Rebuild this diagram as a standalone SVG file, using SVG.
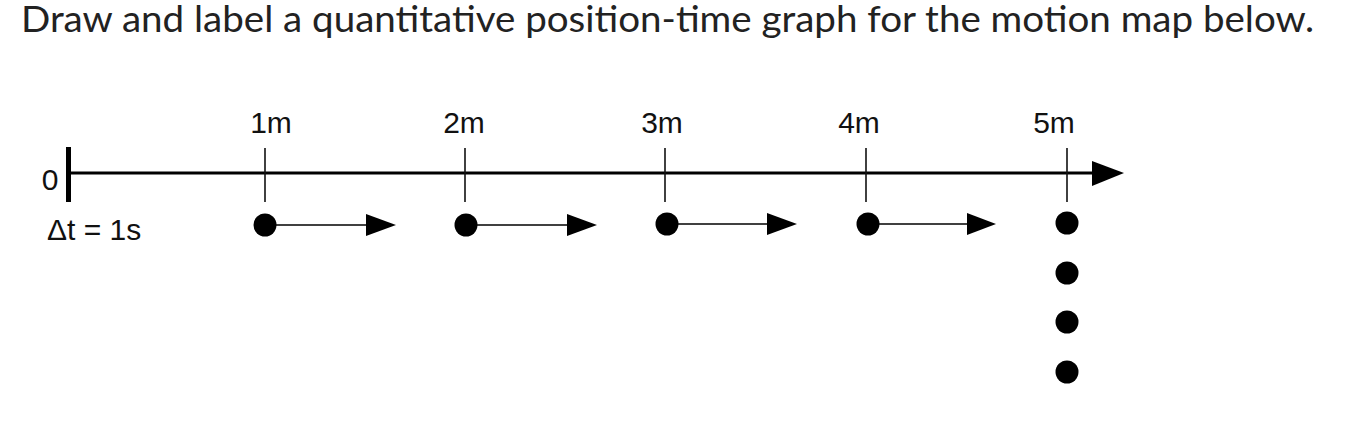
<svg xmlns="http://www.w3.org/2000/svg" width="1364" height="422" viewBox="0 0 1364 422">
<style>
.title{font-family:Lato,"Liberation Sans",sans-serif;font-size:36px;fill:#222}
.lbl{font-family:"Liberation Sans",Arial,sans-serif;font-size:30px;fill:#111}
.tick{stroke:#111;stroke-width:1.6}
.dot{fill:#000}
.vec{stroke:#000;stroke-width:1.6}
.head{fill:#000}
</style>
<rect width="1364" height="422" fill="#fff"/>
<text class="title" x="21" y="32" textLength="1293" lengthAdjust="spacingAndGlyphs">Draw and label a quantitative position-time graph for the motion map below.</text>
<g id="axis">
<line x1="70" y1="173" x2="1094" y2="173" stroke="#000" stroke-width="3.2"/>
<polygon class="head" points="1092,161 1124,173 1092,186"/>
<line x1="68.5" y1="147" x2="68.5" y2="202" stroke="#000" stroke-width="5"/>
<text class="lbl" x="50" y="190" text-anchor="middle">0</text>
<text class="lbl" x="47" y="240">Δt = 1s</text>
</g>
<g id="ticks">
<line class="tick" x1="265" y1="148" x2="265" y2="202"/>
<line class="tick" x1="465" y1="148" x2="465" y2="202"/>
<line class="tick" x1="665" y1="148" x2="665" y2="202"/>
<line class="tick" x1="866" y1="148" x2="866" y2="202"/>
<line class="tick" x1="1067" y1="148" x2="1067" y2="202"/>
<text class="lbl" x="271" y="133" text-anchor="middle">1m</text>
<text class="lbl" x="464" y="133" text-anchor="middle">2m</text>
<text class="lbl" x="662" y="133" text-anchor="middle">3m</text>
<text class="lbl" x="859" y="133" text-anchor="middle">4m</text>
<text class="lbl" x="1054" y="133" text-anchor="middle">5m</text>
</g>
<g id="dots">
<circle class="dot" cx="265" cy="225" r="11.5"/>
<circle class="dot" cx="466" cy="225" r="11.5"/>
<circle class="dot" cx="667" cy="224" r="11.5"/>
<circle class="dot" cx="868" cy="224" r="11.5"/>
<circle class="dot" cx="1067" cy="223" r="11.5"/>
<circle class="dot" cx="1067" cy="273" r="11.5"/>
<circle class="dot" cx="1067" cy="322" r="11.5"/>
<circle class="dot" cx="1067" cy="372" r="11.5"/>
</g>
<g id="connectors">
<line class="vec" x1="265" y1="225" x2="368" y2="225"/>
<polygon class="head" points="366,214 396,225 366,236"/>
<line class="vec" x1="466" y1="225" x2="569" y2="225"/>
<polygon class="head" points="567,214 597,225 567,236"/>
<line class="vec" x1="667" y1="224" x2="769" y2="224"/>
<polygon class="head" points="767,213 797,224 767,235"/>
<line class="vec" x1="868" y1="224" x2="969" y2="224"/>
<polygon class="head" points="967,213 996,224 967,235"/>
</g>
</svg>
